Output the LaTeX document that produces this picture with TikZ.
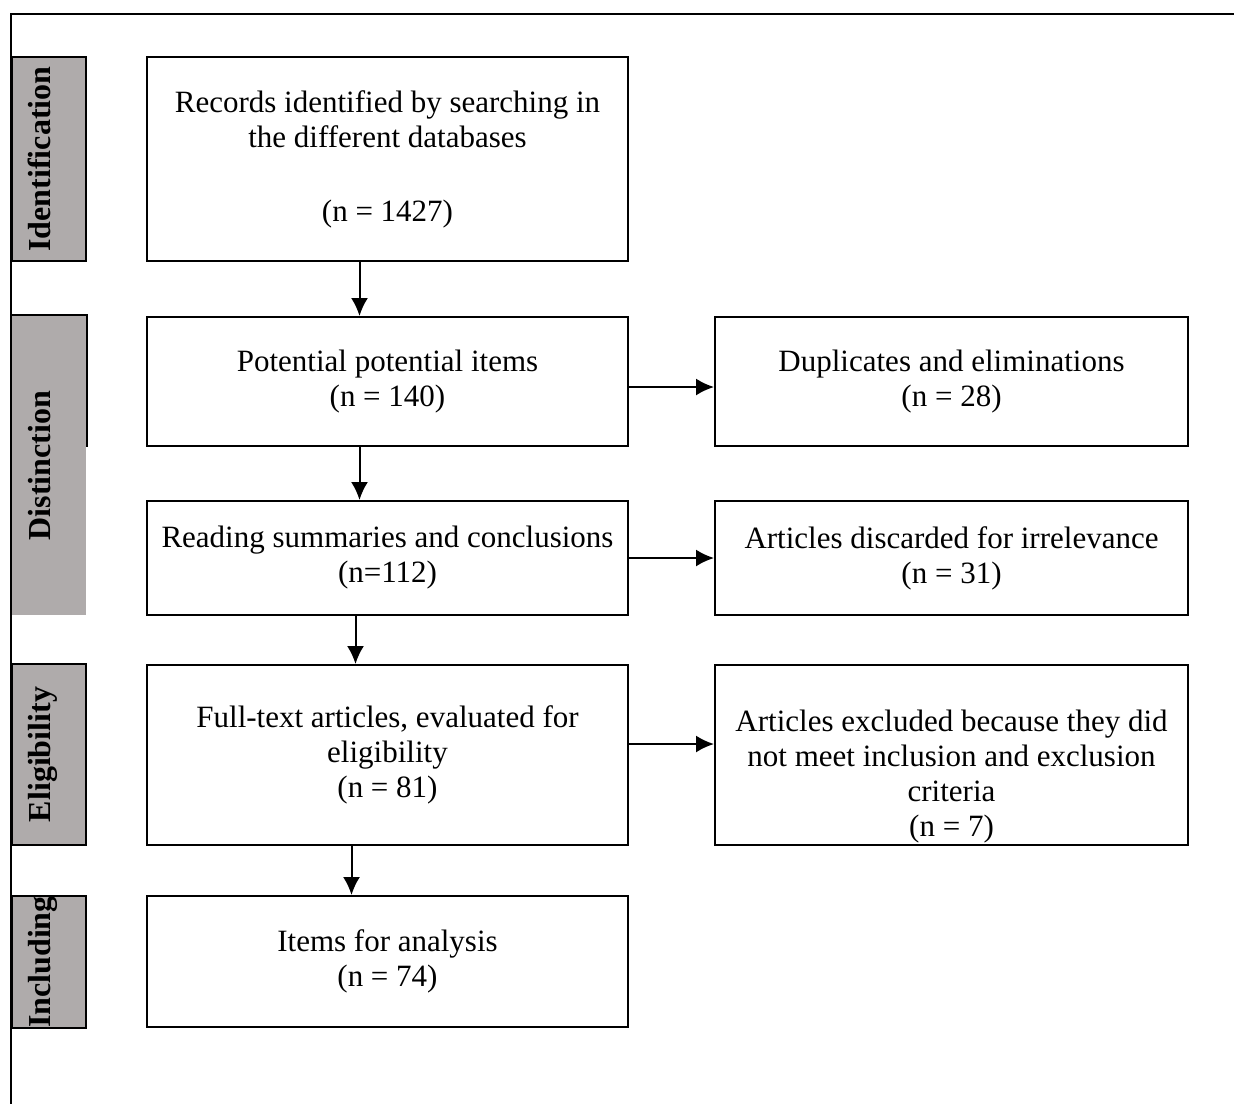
\documentclass[tikz,border=0pt]{standalone}
\usepackage{fontspec}
\setmainfont{Liberation Serif}
\usepackage{graphicx}
\usetikzlibrary{arrows.meta}
\definecolor{bargray}{RGB}{175,171,171}
\newcommand{\phaselabel}[1]{\rotatebox{90}{#1\rule[-10pt]{0pt}{21pt}}}

\begin{document}
\begin{tikzpicture}[x=0.5pt, y=-0.5pt,
    box/.style={draw, line width=1pt, minimum width=240.5pt, align=center, font=\fontsize{15.5}{17.5}\selectfont},
    sidebox/.style={box, minimum width=236.5pt},
    phase/.style={draw, line width=1pt, fill=bargray, minimum width=37pt, inner sep=0pt, font=\bfseries\fontsize{16}{19}\selectfont},
    arr/.style={line width=1pt, -{Latex[length=9pt,width=8.5pt]}}]
        \useasboundingbox (0,0) rectangle (1234,1104);
        \draw[line width=1pt] (1234,14) -- (11,14) -- (11,1104);

        \node[phase, minimum height=102pt] (ident) at (49,159) {\phaselabel{Identification}};
        \node[phase, draw=none, minimum height=149.5pt] (dist) at (49,465.5) {\phaselabel{Distinction}};
        \node[phase, minimum height=90.5pt] (elig) at (49,754.5) {\phaselabel{Eligibility}};
        \node[phase, minimum height=66pt] (incl) at (49,962) {\phaselabel{Including}};

        \node[box, minimum height=102pt] (b1) at (387.5,159) {Records identified by searching in\\the different databases\\[19.5pt](n = 1427)};
        \node[box, minimum height=64.5pt] (b2) at (387.5,381.5) {Potential potential items\\(n = 140)};
        \node[box, minimum height=57pt] (b3) at (387.5,558) {Reading summaries and conclusions\\(n=112)};
        \node[box, minimum height=90pt] (b4) at (387.5,755) {Full-text articles, evaluated for\\eligibility\\(n = 81)};
        \node[box, minimum height=65.5pt] (b5) at (387.5,961.5) {Items for analysis\\(n = 74)};

        \node[sidebox, minimum height=64.5pt] (r1) at (951.5,381.5) {Duplicates and eliminations\\(n = 28)};
        \node[sidebox, minimum height=57pt] (r2) at (951.5,558) {Articles discarded for irrelevance\\(n = 31)};
        \node[sidebox, minimum height=90pt] (r3) at (951.5,755) {};
        \node[align=center, font=\fontsize{15.5}{17.5}\selectfont] (r3text) at ([yshift=-11pt]r3.center) {Articles excluded because they did\\not meet inclusion and exclusion\\criteria\\(n = 7)};

        \draw[line width=1pt] (dist.west |- b2.south) -- (dist.north west) -- (dist.north east) -- (dist.east |- b2.south);

        \draw[arr] ([xshift=-14pt]b1.south) -- ([xshift=-14pt]b2.north);
        \draw[arr] ([xshift=-14pt]b2.south) -- ([xshift=-14pt]b3.north);
        \draw[arr] ([xshift=-16pt]b3.south) -- ([xshift=-16pt]b4.north);
        \draw[arr] ([xshift=-18pt]b4.south) -- ([xshift=-18pt]b5.north);

        \draw[arr] ([yshift=-2.75pt]b2.east) -- ([yshift=-2.75pt]r1.west);
        \draw[arr] (b3.east) -- (r2.west);
        \draw[arr] ([yshift=5.5pt]b4.east) -- ([yshift=5.5pt]r3.west);

    \end{tikzpicture}
\end{document}
